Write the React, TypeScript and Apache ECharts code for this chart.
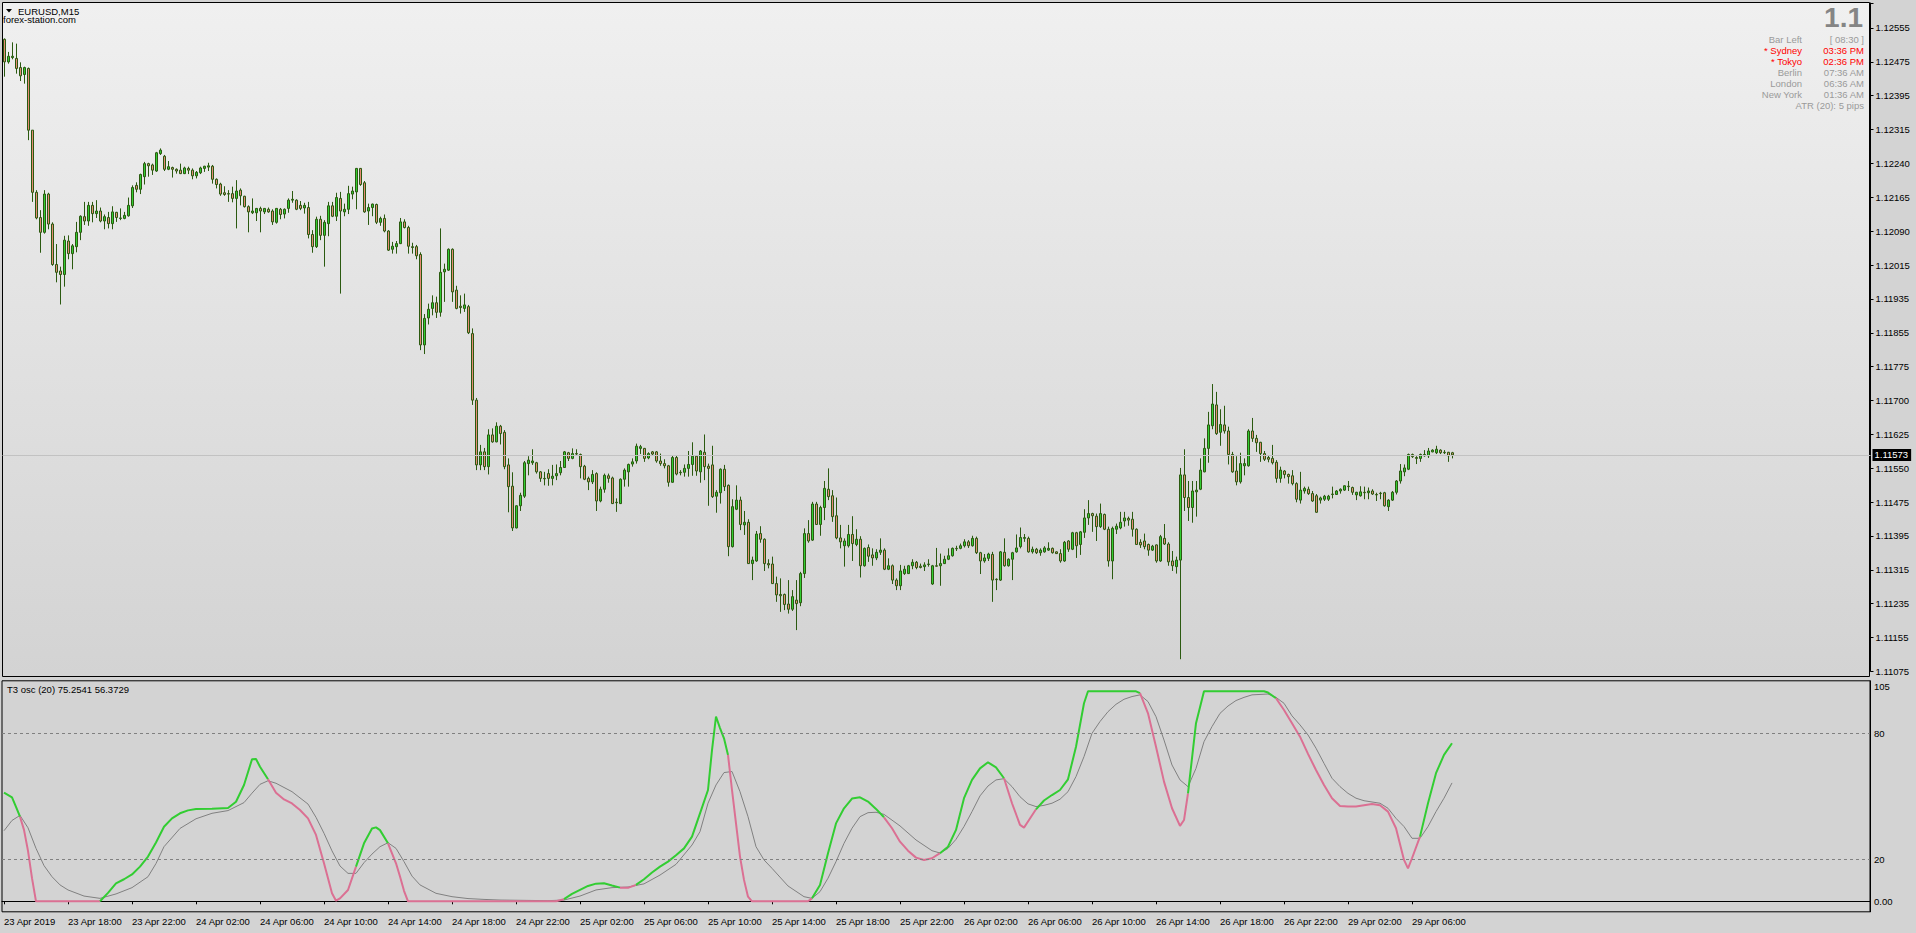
import React, { useEffect, useRef } from "react";
import * as echarts from "echarts";

// ---------- price data (EURUSD M15), one entry per bar ----------
const OPEN = [
1.12529,1.12477,1.12487,1.12485,1.12464,1.12448,1.12462,1.12320,1.12177,1.12119,
1.12085,1.12173,1.12104,1.12011,1.11996,1.11988,1.12065,1.12036,1.12052,1.12085,
1.12121,1.12111,1.12147,1.12128,1.12134,1.12111,1.12119,1.12105,1.12131,1.12117,
1.12117,1.12123,1.12146,1.12193,1.12184,1.12213,1.12243,1.12240,1.12226,1.12266,
1.12260,1.12230,1.12234,1.12230,1.12228,1.12220,1.12232,1.12228,1.12215,1.12222,
1.12232,1.12235,1.12237,1.12207,1.12196,1.12176,1.12174,1.12174,1.12163,1.12182,
1.12168,1.12144,1.12130,1.12130,1.12140,1.12132,1.12138,1.12134,1.12108,1.12138,
1.12127,1.12140,1.12159,1.12159,1.12147,1.12141,1.12142,1.12080,1.12052,1.12115,
1.12078,1.12105,1.12146,1.12122,1.12163,1.12132,1.12138,1.12173,1.12178,1.12232,
1.12199,1.12134,1.12142,1.12149,1.12108,1.12117,1.12088,1.12046,1.12052,1.12059,
1.12109,1.12096,1.12052,1.12052,1.12034,1.11826,1.11888,1.11910,1.11923,1.11901,
1.11994,1.11998,1.12046,1.11952,1.11915,1.11910,1.11914,1.11852,1.11699,1.11550,
1.11580,1.11546,1.11619,1.11603,1.11639,1.11625,1.11550,1.11501,1.11405,1.11456,
1.11478,1.11553,1.11555,1.11555,1.11534,1.11519,1.11530,1.11519,1.11525,1.11532,
1.11544,1.11578,1.11565,1.11576,1.11574,1.11547,1.11519,1.11511,1.11530,1.11467,
1.11494,1.11525,1.11520,1.11464,1.11461,1.11517,1.11534,1.11552,1.11559,1.11588,
1.11588,1.11566,1.11580,1.11580,1.11559,1.11553,1.11548,1.11510,1.11567,1.11533,
1.11533,1.11542,1.11551,1.11570,1.11534,1.11579,1.11547,1.11550,1.11478,1.11486,
1.11540,1.11503,1.11362,1.11448,1.11469,1.11412,1.11418,1.11323,1.11329,1.11392,
1.11379,1.11323,1.11322,1.11277,1.11252,1.11252,1.11230,1.11218,1.11239,1.11233,
1.11300,1.11392,1.11377,1.11460,1.11413,1.11452,1.11494,1.11479,1.11433,1.11382,
1.11364,1.11364,1.11390,1.11367,1.11379,1.11318,1.11360,1.11343,1.11336,1.11349,
1.11354,1.11310,1.11318,1.11285,1.11272,1.11300,1.11300,1.11318,1.11326,1.11317,
1.11316,1.11321,1.11276,1.11318,1.11318,1.11323,1.11333,1.11341,1.11358,1.11358,
1.11364,1.11373,1.11364,1.11381,1.11348,1.11329,1.11335,1.11344,1.11287,1.11285,
1.11349,1.11318,1.11333,1.11350,1.11362,1.11381,1.11381,1.11350,1.11356,1.11348,
1.11350,1.11354,1.11358,1.11350,1.11346,1.11329,1.11375,1.11356,1.11394,1.11367,
1.11395,1.11428,1.11438,1.11432,1.11408,1.11436,1.11402,1.11329,1.11402,1.11405,
1.11421,1.11427,1.11425,1.11402,1.11372,1.11375,1.11367,1.11354,1.11366,1.11329,
1.11381,1.11368,1.11329,1.11316,1.11331,1.11527,1.11475,1.11452,1.11488,1.11494,
1.11534,1.11588,1.11640,1.11688,1.11625,1.11642,1.11628,1.11574,1.11536,1.11511,
1.11548,1.11548,1.11628,1.11611,1.11602,1.11576,1.11567,1.11565,1.11556,1.11519,
1.11536,1.11528,1.11525,1.11507,1.11469,1.11490,1.11494,1.11484,1.11479,1.11469,
1.11471,1.11471,1.11482,1.11482,1.11490,1.11492,1.11501,1.11498,1.11481,1.11479,
1.11487,1.11486,1.11490,1.11482,1.11485,1.11486,1.11454,1.11469,1.11487,1.11513,
1.11534,1.11540,1.11574,1.11567,1.11565,1.11571,1.11571,1.11580,1.11578,1.11584,
1.11579,1.11579,1.11578
];
const CLOSE = [
1.12477,1.12490,1.12490,1.12462,1.12445,1.12464,1.12320,1.12177,1.12118,1.12085,
1.12173,1.12104,1.12011,1.11993,1.11988,1.12067,1.12036,1.12054,1.12085,1.12122,
1.12111,1.12147,1.12128,1.12134,1.12111,1.12121,1.12105,1.12132,1.12119,1.12118,
1.12124,1.12147,1.12188,1.12184,1.12218,1.12243,1.12238,1.12228,1.12268,1.12274,
1.12230,1.12236,1.12230,1.12226,1.12220,1.12233,1.12228,1.12215,1.12223,1.12233,
1.12237,1.12238,1.12207,1.12195,1.12173,1.12172,1.12173,1.12163,1.12180,1.12169,
1.12144,1.12132,1.12134,1.12140,1.12134,1.12140,1.12132,1.12109,1.12140,1.12126,
1.12138,1.12159,1.12161,1.12138,1.12140,1.12147,1.12080,1.12052,1.12115,1.12078,
1.12108,1.12146,1.12122,1.12165,1.12134,1.12138,1.12174,1.12180,1.12232,1.12195,
1.12132,1.12142,1.12150,1.12108,1.12117,1.12088,1.12044,1.12053,1.12059,1.12109,
1.12096,1.12053,1.12050,1.12031,1.11826,1.11887,1.11908,1.11923,1.11901,1.11993,
1.12000,1.12046,1.11948,1.11910,1.11912,1.11918,1.11854,1.11699,1.11550,1.11580,
1.11546,1.11619,1.11603,1.11639,1.11622,1.11546,1.11500,1.11405,1.11456,1.11480,
1.11555,1.11561,1.11559,1.11534,1.11519,1.11518,1.11519,1.11524,1.11530,1.11544,
1.11580,1.11565,1.11576,1.11575,1.11546,1.11517,1.11511,1.11528,1.11467,1.11494,
1.11526,1.11519,1.11461,1.11463,1.11517,1.11538,1.11551,1.11557,1.11593,1.11592,
1.11565,1.11576,1.11575,1.11559,1.11553,1.11548,1.11510,1.11567,1.11529,1.11532,
1.11542,1.11551,1.11570,1.11536,1.11582,1.11546,1.11542,1.11477,1.11487,1.11540,
1.11500,1.11362,1.11454,1.11469,1.11413,1.11418,1.11323,1.11331,1.11391,1.11379,
1.11323,1.11320,1.11277,1.11251,1.11249,1.11229,1.11218,1.11247,1.11231,1.11300,
1.11392,1.11375,1.11460,1.11413,1.11452,1.11496,1.11477,1.11431,1.11382,1.11373,
1.11375,1.11390,1.11369,1.11379,1.11318,1.11358,1.11340,1.11336,1.11349,1.11354,
1.11310,1.11318,1.11285,1.11272,1.11306,1.11310,1.11318,1.11326,1.11314,1.11314,
1.11320,1.11322,1.11318,1.11317,1.11323,1.11333,1.11341,1.11358,1.11357,1.11364,
1.11373,1.11364,1.11381,1.11348,1.11329,1.11336,1.11345,1.11285,1.11286,1.11350,
1.11318,1.11333,1.11348,1.11359,1.11383,1.11383,1.11350,1.11356,1.11348,1.11354,
1.11359,1.11358,1.11348,1.11346,1.11329,1.11372,1.11356,1.11394,1.11364,1.11396,
1.11428,1.11438,1.11433,1.11408,1.11438,1.11402,1.11329,1.11404,1.11409,1.11418,
1.11428,1.11423,1.11402,1.11367,1.11366,1.11362,1.11354,1.11363,1.11329,1.11385,
1.11368,1.11327,1.11318,1.11331,1.11527,1.11475,1.11452,1.11490,1.11492,1.11538,
1.11588,1.11642,1.11690,1.11622,1.11643,1.11628,1.11574,1.11534,1.11511,1.11553,
1.11553,1.11628,1.11611,1.11601,1.11576,1.11563,1.11563,1.11555,1.11519,1.11538,
1.11528,1.11523,1.11507,1.11471,1.11492,1.11496,1.11484,1.11467,1.11441,1.11474,
1.11478,1.11478,1.11483,1.11490,1.11494,1.11502,1.11500,1.11487,1.11487,1.11488,
1.11486,1.11490,1.11483,1.11481,1.11484,1.11456,1.11469,1.11487,1.11513,1.11536,
1.11543,1.11574,1.11569,1.11565,1.11574,1.11574,1.11582,1.11584,1.11586,1.11578,
1.11578,1.11571,1.11573
];
const HIGH = [
1.12531,1.12500,1.12522,1.12519,1.12476,1.12466,1.12464,1.12320,1.12182,1.12136,
1.12182,1.12176,1.12108,1.12058,1.12006,1.12077,1.12078,1.12058,1.12109,1.12124,
1.12155,1.12155,1.12155,1.12159,1.12142,1.12126,1.12132,1.12145,1.12132,1.12140,
1.12132,1.12165,1.12193,1.12200,1.12220,1.12247,1.12245,1.12243,1.12270,1.12278,
1.12263,1.12249,1.12236,1.12232,1.12243,1.12236,1.12236,1.12232,1.12226,1.12236,
1.12238,1.12245,1.12240,1.12209,1.12199,1.12191,1.12182,1.12190,1.12205,1.12186,
1.12169,1.12147,1.12163,1.12141,1.12144,1.12141,1.12142,1.12138,1.12141,1.12141,
1.12140,1.12163,1.12180,1.12161,1.12157,1.12153,1.12155,1.12090,1.12121,1.12123,
1.12113,1.12155,1.12155,1.12176,1.12178,1.12151,1.12192,1.12190,1.12233,1.12233,
1.12203,1.12151,1.12151,1.12151,1.12121,1.12126,1.12090,1.12063,1.12065,1.12118,
1.12115,1.12100,1.12061,1.12056,1.12039,1.11897,1.11921,1.11940,1.11937,1.12094,
1.12013,1.12048,1.12048,1.11962,1.11940,1.11944,1.11918,1.11864,1.11704,1.11596,
1.11589,1.11632,1.11634,1.11648,1.11642,1.11630,1.11565,1.11533,1.11457,1.11486,
1.11559,1.11570,1.11586,1.11557,1.11536,1.11534,1.11540,1.11550,1.11551,1.11559,
1.11582,1.11580,1.11588,1.11586,1.11576,1.11550,1.11523,1.11538,1.11533,1.11500,
1.11530,1.11530,1.11523,1.11473,1.11519,1.11542,1.11553,1.11565,1.11599,1.11596,
1.11589,1.11579,1.11582,1.11582,1.11576,1.11563,1.11550,1.11572,1.11572,1.11538,
1.11551,1.11582,1.11602,1.11572,1.11584,1.11620,1.11553,1.11594,1.11492,1.11542,
1.11550,1.11505,1.11471,1.11503,1.11477,1.11444,1.11425,1.11339,1.11398,1.11409,
1.11381,1.11333,1.11339,1.11293,1.11289,1.11254,1.11285,1.11262,1.11285,1.11304,
1.11404,1.11423,1.11465,1.11465,1.11456,1.11513,1.11542,1.11492,1.11475,1.11412,
1.11381,1.11412,1.11432,1.11402,1.11386,1.11360,1.11367,1.11358,1.11356,1.11381,
1.11358,1.11335,1.11321,1.11289,1.11320,1.11318,1.11320,1.11333,1.11329,1.11323,
1.11326,1.11333,1.11320,1.11359,1.11346,1.11341,1.11358,1.11360,1.11364,1.11369,
1.11379,1.11377,1.11387,1.11385,1.11350,1.11345,1.11348,1.11350,1.11289,1.11352,
1.11381,1.11335,1.11350,1.11390,1.11406,1.11391,1.11385,1.11362,1.11359,1.11358,
1.11363,1.11372,1.11360,1.11351,1.11356,1.11375,1.11377,1.11396,1.11396,1.11398,
1.11448,1.11469,1.11440,1.11438,1.11461,1.11438,1.11408,1.11408,1.11415,1.11442,
1.11442,1.11431,1.11442,1.11404,1.11379,1.11392,1.11369,1.11366,1.11367,1.11389,
1.11414,1.11372,1.11352,1.11339,1.11543,1.11586,1.11513,1.11513,1.11513,1.11565,
1.11611,1.11672,1.11736,1.11718,1.11678,1.11686,1.11638,1.11580,1.11570,1.11578,
1.11565,1.11632,1.11658,1.11619,1.11603,1.11582,1.11572,1.11596,1.11561,1.11546,
1.11538,1.11530,1.11538,1.11510,1.11534,1.11500,1.11500,1.11490,1.11483,1.11477,
1.11481,1.11481,1.11500,1.11492,1.11496,1.11503,1.11513,1.11500,1.11488,1.11501,
1.11500,1.11498,1.11494,1.11486,1.11488,1.11488,1.11471,1.11490,1.11515,1.11552,
1.11551,1.11576,1.11576,1.11570,1.11576,1.11584,1.11589,1.11586,1.11594,1.11586,
1.11584,1.11580,1.11580
];
const LOW = [
1.12443,1.12473,1.12483,1.12450,1.12433,1.12427,1.12297,1.12155,1.12115,1.12038,
1.12082,1.12092,1.12008,1.11970,1.11919,1.11960,1.12023,1.12000,1.12039,1.12067,
1.12102,1.12100,1.12108,1.12118,1.12108,1.12092,1.12094,1.12092,1.12109,1.12113,
1.12115,1.12121,1.12141,1.12177,1.12173,1.12195,1.12213,1.12217,1.12224,1.12263,
1.12226,1.12228,1.12211,1.12220,1.12219,1.12219,1.12219,1.12207,1.12209,1.12219,
1.12224,1.12226,1.12197,1.12186,1.12169,1.12169,1.12155,1.12154,1.12094,1.12147,
1.12142,1.12085,1.12127,1.12111,1.12085,1.12127,1.12130,1.12102,1.12105,1.12115,
1.12117,1.12130,1.12153,1.12136,1.12136,1.12128,1.12071,1.12038,1.12049,1.12067,
1.12006,1.12076,1.12120,1.12111,1.11944,1.12122,1.12127,1.12161,1.12138,1.12192,
1.12130,1.12102,1.12122,1.12104,1.12100,1.12085,1.12042,1.12036,1.12036,1.12058,
1.12094,1.12036,1.12036,1.12023,1.11814,1.11805,1.11873,1.11894,1.11888,1.11891,
1.11925,1.11996,1.11925,1.11908,1.11898,1.11902,1.11851,1.11688,1.11538,1.11538,
1.11538,1.11528,1.11601,1.11602,1.11597,1.11540,1.11441,1.11398,1.11404,1.11444,
1.11474,1.11526,1.11550,1.11530,1.11511,1.11503,1.11502,1.11503,1.11515,1.11526,
1.11543,1.11559,1.11563,1.11572,1.11519,1.11515,1.11492,1.11506,1.11444,1.11464,
1.11486,1.11509,1.11460,1.11442,1.11460,1.11500,1.11500,1.11546,1.11553,1.11575,
1.11557,1.11563,1.11572,1.11555,1.11548,1.11542,1.11500,1.11509,1.11526,1.11526,
1.11523,1.11523,1.11525,1.11525,1.11509,1.11515,1.11456,1.11474,1.11440,1.11461,
1.11490,1.11340,1.11360,1.11446,1.11400,1.11389,1.11322,1.11285,1.11327,1.11371,
1.11306,1.11312,1.11276,1.11235,1.11212,1.11216,1.11208,1.11214,1.11170,1.11225,
1.11290,1.11371,1.11375,1.11412,1.11387,1.11423,1.11469,1.11419,1.11379,1.11358,
1.11316,1.11360,1.11329,1.11363,1.11291,1.11316,1.11327,1.11318,1.11331,1.11343,
1.11308,1.11308,1.11276,1.11262,1.11262,1.11297,1.11299,1.11310,1.11310,1.11312,
1.11306,1.11316,1.11274,1.11316,1.11272,1.11322,1.11331,1.11339,1.11352,1.11356,
1.11360,1.11359,1.11362,1.11345,1.11299,1.11325,1.11329,1.11235,1.11262,1.11283,
1.11316,1.11316,1.11285,1.11348,1.11358,1.11373,1.11348,1.11346,1.11345,1.11341,
1.11348,1.11352,1.11346,1.11345,1.11325,1.11327,1.11350,1.11354,1.11336,1.11343,
1.11382,1.11412,1.11396,1.11375,1.11405,1.11400,1.11316,1.11287,1.11391,1.11402,
1.11408,1.11410,1.11385,1.11366,1.11359,1.11356,1.11341,1.11352,1.11325,1.11327,
1.11366,1.11318,1.11306,1.11300,1.11103,1.11444,1.11421,1.11417,1.11431,1.11492,
1.11533,1.11555,1.11632,1.11619,1.11594,1.11622,1.11551,1.11532,1.11503,1.11507,
1.11526,1.11546,1.11603,1.11580,1.11557,1.11559,1.11556,1.11551,1.11509,1.11509,
1.11519,1.11507,1.11503,1.11464,1.11461,1.11484,1.11481,1.11465,1.11440,1.11461,
1.11467,1.11467,1.11473,1.11481,1.11484,1.11490,1.11490,1.11481,1.11469,1.11477,
1.11471,1.11471,1.11481,1.11467,1.11471,1.11454,1.11444,1.11467,1.11482,1.11507,
1.11524,1.11538,1.11566,1.11552,1.11557,1.11569,1.11566,1.11579,1.11575,1.11575,
1.11575,1.11557,1.11565
];

const LAST_PRICE = 1.11573;

// right price scale labels (bottom to top)
const PRICE_LABELS = [
  "1.11075","1.11155","1.11235","1.11315","1.11395","1.11475","1.11550",
  "1.11625","1.11700","1.11775","1.11855","1.11935","1.12015","1.12090",
  "1.12165","1.12240","1.12315","1.12395","1.12475","1.12555"
];
const PRICE_FIRST = 1.11075;
const PRICE_LAST = 1.12555;
const PRICE_TOP = 1.126125;

// ---------- T3 oscillator (bar index, value) ----------
const OSC_MAIN = [
[0,51.7],[2,49.5],[3,45],[4,40.3],[5,34],[6,24],[7,11],[8,0],[24,0],[26,4],[28,8.5],[30,10.5],
[32,12.8],[34,16.5],[36,21.3],[38,28],[40,35.5],[42,39.5],[44,41.9],[46,43.3],[48,43.9],[52,44.1],
[56,44.4],[58,47.4],[60,55.4],[62,67.6],[63,67.8],[64,64.1],[66,58.1],[68,51.7],[70,48.5],[72,46.6],
[74,43.5],[76,39.5],[78,31.6],[80,18.1],[82,3.8],[83,0.3],[84,1.4],[86,5.4],[88,16.5],[90,27.6],
[92,34.7],[93,35.2],[94,33.9],[96,27.6],[98,18.1],[99,11.8],[100,5],[101,0],[138,0],[140,1],
[142,3.5],[144,5.4],[146,7.3],[148,8.4],[150,8.6],[152,7.5],[154,6.5],[156,6.4],[158,7.8],[160,10.5],
[162,13.7],[164,16.5],[166,18.9],[168,21.9],[170,25.2],[172,30.8],[174,41.9],[176,53],[177,72],[178,88],
[179,82.5],[180,77.6],[181,69.7],[182,53],[183,37.1],[184,21.3],[185,10.2],[186,2.2],[187,0],[201,0],
[202,1.4],[204,7.8],[206,22.9],[208,37.1],[210,44.3],[212,48.9],[214,49.5],[216,47.5],[218,44],[220,40],
[222,34.8],[224,28.4],[226,24.1],[228,20.8],[230,19.7],[232,20.5],[234,22.9],[236,26],[238,34],[240,49.1],
[242,57.8],[244,63.3],[246,66.2],[248,63.8],[250,58.6],[252,46.7],[254,36.4],[255,35.1],[256,38],[258,43.8],
[260,48],[262,50.6],[264,53],[266,58.1],[268,73.6],[270,94.3],[271,100],[283,100],[284,99.1],[286,89.5],
[288,73.6],[290,57],[292,44.3],[294,35.9],[295,38.7],[296,51.4],[298,84.8],[300,100],[315,100],[316,99.4],
[318,96.7],[320,91.1],[322,84.8],[324,78.4],[326,70.2],[328,62.5],[330,55.4],[332,49.1],[334,45.4],[336,45.1],
[338,45.1],[340,45.7],[342,46.3],[344,45.7],[346,42.7],[348,34.8],[350,19.7],[351,15.7],[352,20.5],[354,30.8],
[356,46.7],[358,61],[360,69.7],[362,75.2541]
];
const OSC_SIGNAL = [
[0,33.6],[2,38.5],[4,40.9],[6,35],[8,25.2],[10,17],[12,11.7],[14,7.8],[16,5.4],[20,2.5],[24,1.4],[28,3.5],
[32,6.5],[36,11.7],[38,18],[40,26],[44,34.7],[48,39.3],[52,41.9],[56,43.2],[60,47],[62,51.5],[64,55.7],
[66,57.4],[68,56.2],[72,52.2],[76,46.3],[78,40],[80,32.4],[82,24],[84,16.8],[86,13.3],[88,13.3],[90,18.4],
[92,22.5],[94,26],[96,27.9],[98,25.2],[100,18.9],[102,12],[104,7.8],[108,3.8],[112,2.2],[116,1.3],[120,0.9],
[124,0.6],[128,0.5],[136,0.3],[140,0.6],[144,2.5],[148,5.4],[152,6.5],[156,6.8],[160,8.3],[164,12.5],
[168,17.6],[172,26.8],[174,33.2],[176,46.7],[178,55.4],[180,61.3],[182,61.8],[184,52.2],[186,40.3],[188,26],
[190,19.7],[192,15.7],[196,7.3],[200,2.2],[202,1.4],[204,4.6],[206,11],[208,18.9],[210,27.6],[212,34.8],
[214,40.3],[216,42.2],[218,42.4],[220,41.4],[224,35.9],[228,29.2],[232,24.1],[234,23],[236,25.2],[238,29.5],
[240,35.6],[242,42.7],[244,50.2],[246,54.9],[248,57.8],[250,58.4],[252,54.6],[254,49.8],[256,46.4],[258,45.1],
[260,45.7],[262,46.7],[264,48.6],[266,52.2],[268,59.4],[270,68.9],[272,80],[274,85.6],[276,90.3],[278,93.8],
[280,96.2],[282,97.5],[284,98.3],[286,95.1],[288,87.9],[290,76.8],[292,64.9],[294,57.8],[296,54.6],[298,63.3],
[300,76],[302,83.2],[304,89.5],[306,93],[308,95.6],[310,97.1],[312,98.3],[316,98.7],[318,97.1],[320,94.3],
[322,88.3],[324,84],[326,79.2],[328,72.9],[330,65.7],[332,58.6],[334,54.6],[336,51.4],[338,49.1],[340,47.9],
[342,47.3],[344,46.7],[346,44.3],[348,39.5],[350,35.6],[352,30],[354,30],[356,35.6],[358,42.7],[360,49.1],
[362,56.3729]
];
const OSC_LEVELS = [80, 20];

// ---------- time axis ----------
const TOTAL_SLOTS = 467; // visible bar slots across the chart width
const FIRST_LABEL = "23 Apr 2019";
const LABEL_EVERY = 16;

function pad(n: number) { return n < 10 ? "0" + n : "" + n; }
function buildTimes(n: number): string[] {
  const out: string[] = [];
  let day = 23, hour = 14, minute = 0;
  for (let i = 0; i < n; i++) {
    out.push(`${day} Apr ${pad(hour)}:${pad(minute)}`);
    minute += 15;
    if (minute === 60) { minute = 0; hour++; }
    if (hour === 24) { hour = 0; day++; if (day === 27) day = 29; }
  }
  return out;
}
const TIMES = buildTimes(TOTAL_SLOTS);

const FONT = '"Liberation Sans", Arial, sans-serif';
const WICK = "#2b5a10";
const BULL = "#32cd32";
const BEAR = "#e58a74";
const UP_COLOR = "#32cd32";
const DOWN_COLOR = "#db7093";

function signalAt(x: number): number {
  for (let k = 0; k < OSC_SIGNAL.length - 1; k++) {
    const a = OSC_SIGNAL[k], b = OSC_SIGNAL[k + 1];
    if (x >= a[0] && x <= b[0]) {
      const t = (x - a[0]) / (b[0] - a[0]);
      return a[1] + (b[1] - a[1]) * t;
    }
  }
  return OSC_SIGNAL[OSC_SIGNAL.length - 1][1];
}

function mainRuns() {
  const runs: { up: boolean; pts: number[][] }[] = [];
  for (let k = 0; k < OSC_MAIN.length - 1; k++) {
    const a = OSC_MAIN[k], b = OSC_MAIN[k + 1];
    const up = (a[1] + b[1]) / 2 >= signalAt((a[0] + b[0]) / 2);
    const last = runs[runs.length - 1];
    if (last && last.up === up) last.pts.push(b);
    else runs.push({ up, pts: [a, b] });
  }
  return runs;
}

function buildOption() {
  const nBars = OPEN.length;
  const step = (PRICE_LAST - PRICE_FIRST) / (PRICE_LABELS.length - 1);
  const showIdx = (i: number) => i % LABEL_EVERY === 0 && i < nBars;

  const runSeries = mainRuns().map((r) => ({
    type: "line",
    xAxisIndex: 1,
    yAxisIndex: 1,
    data: r.pts,
    showSymbol: false,
    symbol: "none",
    lineStyle: { color: r.up ? UP_COLOR : DOWN_COLOR, width: 2 },
    z: 4,
    silent: true,
  }));

  const infoRows: [string, string, string][] = [
    ["Bar Left", "[ 08:30 ]", "#9a9a9a"],
    ["* Sydney", "03:36 PM", "#ff0000"],
    ["* Tokyo", "02:36 PM", "#ff0000"],
    ["Berlin", "07:36 AM", "#9a9a9a"],
    ["London", "06:36 AM", "#9a9a9a"],
    ["New York", "01:36 AM", "#9a9a9a"],
  ];
  const infoTexts: any[] = [];
  infoRows.forEach((row, k) => {
    const y = 39 + k * 11;
    infoTexts.push({ type: "text", z: 50, style: { text: row[0], x: 1802, y, align: "right", verticalAlign: "middle", fill: row[2], fontSize: 9.5, fontFamily: FONT } });
    infoTexts.push({ type: "text", z: 50, style: { text: row[1], x: 1864, y, align: "right", verticalAlign: "middle", fill: row[2], fontSize: 9.5, fontFamily: FONT } });
  });
  infoTexts.push({ type: "text", z: 50, style: { text: "ATR (20): 5 pips", x: 1864, y: 105, align: "right", verticalAlign: "middle", fill: "#9a9a9a", fontSize: 9.5, fontFamily: FONT } });

  return {
    animation: false,
    backgroundColor: "#d3d3d3",
    textStyle: { fontFamily: FONT },
    grid: [
      { left: 2.5, top: 3, width: 1868, height: 668.4, show: false },
      { left: 2, top: 680.8, width: 1868, height: 231, show: true, backgroundColor: "#d3d3d3", borderColor: "#000", borderWidth: 1 },
    ],
    xAxis: [
      { type: "category", gridIndex: 0, data: TIMES, boundaryGap: true, show: false },
      {
        type: "category", gridIndex: 1, data: TIMES, boundaryGap: true,
        axisLine: { show: true, lineStyle: { color: "#000", width: 1 } },
        axisTick: { show: true, alignWithLabel: true, interval: (i: number) => showIdx(i), length: 3, lineStyle: { color: "#000" } },
        axisLabel: {
          interval: (i: number) => showIdx(i),
          formatter: (v: string, i: number) => (i === 0 ? FIRST_LABEL : v),
          align: "left", color: "#000", fontSize: 9.5, fontFamily: FONT, margin: 5,
        },
        splitLine: { show: false },
      },
    ],
    yAxis: [
      {
        type: "value", gridIndex: 0, position: "right",
        min: PRICE_FIRST, max: PRICE_TOP, interval: step,
        axisLine: { show: true, lineStyle: { color: "#000", width: 1 } },
        axisTick: { show: true, length: 3, lineStyle: { color: "#000" } },
        axisLabel: {
          color: "#000", fontSize: 9.5, fontFamily: FONT, margin: 5,
          formatter: (v: number) => {
            const idx = Math.round((v - PRICE_FIRST) / step);
            if (Math.abs(v - (PRICE_FIRST + idx * step)) > step * 0.1) return "";
            return PRICE_LABELS[idx] ?? "";
          },
        },
        splitLine: { show: false },
      },
      {
        type: "value", gridIndex: 1, position: "right",
        min: -5, max: 105, interval: 2.5,
        axisLine: { show: true, lineStyle: { color: "#000", width: 1 } },
        axisTick: { show: false },
        axisLabel: {
          color: "#000", fontSize: 9.5, fontFamily: FONT, margin: 4,
          formatter: (v: number) => {
            const r = Math.round(v * 10) / 10;
            if (r === 102.5) return "105";
            if (r === 80) return "80";
            if (r === 20) return "20";
            if (r === 0) return "0.00";
            return "";
          },
        },
        splitLine: { show: false },
      },
    ],
    series: [
      {
        type: "candlestick",
        xAxisIndex: 0, yAxisIndex: 0,
        data: OPEN.map((o, i) => [o, CLOSE[i], LOW[i], HIGH[i]]),
        barWidth: 2,
        itemStyle: { color: BULL, color0: BEAR, borderColor: WICK, borderColor0: WICK, borderWidth: 1 },
        silent: true,
        z: 3,
      },
      {
        // carrier of the current-price line (no visible points)
        type: "line",
        xAxisIndex: 0, yAxisIndex: 0,
        data: [[0, LAST_PRICE]],
        showSymbol: false, symbol: "none",
        lineStyle: { opacity: 0 },
        silent: true,
        z: 2,
        markLine: {
          silent: true, symbol: ["none", "none"], animation: false,
          precision: 5,
          lineStyle: { color: "#c2c2c2", width: 1, type: "solid" },
          label: {
            show: true, position: "end", distance: 2,
            formatter: LAST_PRICE.toFixed(5),
            color: "#fff", backgroundColor: "#000", padding: [1, 3, 1, 2],
            fontSize: 9.5, fontFamily: FONT,
          },
          data: [{ yAxis: LAST_PRICE }],
        },
      },
      {
        type: "line",
        xAxisIndex: 1, yAxisIndex: 1,
        data: OSC_SIGNAL,
        showSymbol: false, symbol: "none",
        lineStyle: { color: "#808080", width: 1 },
        silent: true,
        z: 3,
        markLine: {
          silent: true, symbol: ["none", "none"], animation: false,
          label: { show: false },
          lineStyle: { color: "#808080", width: 1, type: [3, 3] },
          data: OSC_LEVELS.map((v) => ({ yAxis: v })),
        },
      },
      ...runSeries,
    ],
    graphic: [
      {
        type: "rect", z: -10, silent: true,
        shape: { x: 2.5, y: 2.5, width: 1867, height: 674 },
        style: {
          fill: new echarts.graphic.LinearGradient(0, 0, 0, 1, [
            { offset: 0, color: "#f0f0f0" },
            { offset: 1, color: "#d3d3d3" },
          ]),
          stroke: "#000", lineWidth: 1,
        },
      },
      { type: "polygon", z: 50, silent: true, shape: { points: [[6, 9], [12, 9], [9, 12.5]] }, style: { fill: "#000" } },
      { type: "text", z: 50, silent: true, style: { text: "EURUSD,M15", x: 18, y: 11, verticalAlign: "middle", fill: "#000", fontSize: 9.5, fontFamily: FONT } },
      { type: "text", z: 50, silent: true, style: { text: "forex-station.com", x: 3, y: 19, verticalAlign: "middle", fill: "#000", fontSize: 9.5, fontFamily: FONT } },
      { type: "text", z: 50, silent: true, style: { text: "T3 osc (20) 75.2541 56.3729", x: 7, y: 689, verticalAlign: "middle", fill: "#000", fontSize: 9.5, fontFamily: FONT } },
      { type: "text", z: 50, silent: true, style: { text: "1.1", x: 1863, y: 17, align: "right", verticalAlign: "middle", fill: "#858585", fontSize: 28, fontWeight: "bold", fontFamily: FONT } },
      ...infoTexts,
    ],
  };
}

export default function App() {
  const ref = useRef<HTMLDivElement>(null);
  useEffect(() => {
    if (!ref.current) return;
    const chart = echarts.init(ref.current, undefined, { renderer: "svg" });
    chart.setOption(buildOption() as any);
    return () => chart.dispose();
  }, []);
  return (
    <div
      ref={ref}
      style={{ position: "absolute", left: 0, top: 0, width: 1916, height: 933, background: "#d3d3d3" }}
    />
  );
}
